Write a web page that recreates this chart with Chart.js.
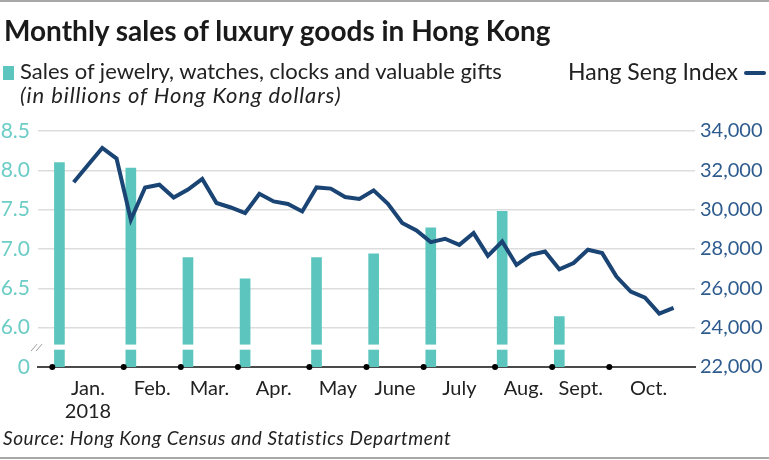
<!DOCTYPE html>
<html>
<head>
<meta charset="utf-8">
<script src="https://cdn.jsdelivr.net/npm/chart.js@4.4.1/dist/chart.umd.min.js"></script>
<style>
  html, body { margin: 0; padding: 0; background: #fff; }
  body { width: 769px; height: 460px; position: relative; overflow: hidden; font-family: Lato, sans-serif; color: #222; }
  #wrap { position: absolute; left: 0; top: 0; width: 769px; height: 460px; }
  .rule { position: absolute; left: 0; width: 769px; height: 2px; background: #a8a8a8; }
  #title { position: absolute; left: 4px; top: 13px; font-size: 28px; font-weight: bold; color: #1a1a1a; white-space: nowrap; }
  #legend-sales { position: absolute; left: 3px; top: 59px; font-size: 22px; line-height: 24px; color: #222; white-space: nowrap; }
  #legend-sales .swatch { display: inline-block; width: 11px; height: 14px; background: #5cc6be; margin-right: 6px; vertical-align: -1px; }
  #legend-sales .unit { font-style: italic; padding-left: 17px; letter-spacing: 0.9px; }
  #legend-hsi { position: absolute; right: 3px; top: 59px; font-size: 23px; line-height: 24px; color: #222; white-space: nowrap; }
  #legend-hsi .swatch { display: inline-block; width: 22px; height: 4px; background: #1a4473; margin-left: 6px; vertical-align: 5px; border-radius: 2px; }
  #source { position: absolute; left: 3px; top: 426px; font-size: 19px; font-style: italic; color: #222; white-space: nowrap; letter-spacing: 0.55px; }
</style>
</head>
<body>
<div id="wrap"><canvas id="chart" width="769" height="460"></canvas></div>
<div class="rule" style="top:0"></div>
<div class="rule" style="top:457px"></div>
<div id="title">Monthly sales of luxury goods in Hong Kong</div>
<div id="legend-sales"><span class="swatch"></span>Sales of jewelry, watches, clocks and valuable gifts<br><span class="unit">(in billions of Hong Kong dollars)</span></div>
<div id="legend-hsi">Hang Seng Index<span class="swatch"></span></div>
<div id="source">Source: Hong Kong Census and Statistics Department</div>
<script>
// months of 2018, x axis counted in weeks from Jan. 1
const months = ['Jan.', 'Feb.', 'Mar.', 'Apr.', 'May', 'June', 'July', 'Aug.', 'Sept.', 'Oct.'];
const monthStartWeeks = [0, 5, 9, 13, 18, 22, 26, 31, 35, 39];
const axisEndWeek = 44.5;

// monthly sales, HK$ billion (Jan. - Sept.)
const salesValues = [8.1, 8.03, 6.89, 6.62, 6.89, 6.94, 7.27, 7.48, 6.14];

// weekly Hang Seng Index closes
const hsiFirstWeek = 1.5;
const hangSeng = [
  31390, 32270, 33140, 32600, 29490, 31130, 31270, 30620, 31020, 31560,
  30340, 30110, 29830, 30810, 30420, 30290, 29910, 31130, 31070, 30640,
  30540, 30980, 30300, 29320, 28940, 28350, 28520, 28210, 28810, 27650,
  28380, 27190, 27700, 27870, 26970, 27290, 27960, 27790, 26600, 25830,
  25520, 24720, 25010
];

const salesTicks = [5.5, 6.0, 6.5, 7.0, 7.5, 8.0, 8.5];
const hsiTicks = [22000, 24000, 26000, 28000, 30000, 32000, 34000];

const TEAL = '#5cc6be';
const NAVY = '#1a4473';

const monthCenters = monthStartWeeks.map((w, i) => {
  const end = i < monthStartWeeks.length - 1 ? monthStartWeeks[i + 1] : axisEndWeek;
  return (w + end) / 2;
});

// white gap through the bars plus the "//" mark on the left axis
const axisBreak = {
  id: 'axisBreak',
  afterDatasetsDraw(chart) {
    const { ctx, chartArea } = chart;
    const y = chart.scales.y;
    const top = y.getPixelForValue(5.785);
    const bottom = y.getPixelForValue(5.72);
    ctx.save();
    ctx.fillStyle = '#fff';
    chart.getDatasetMeta(0).data.forEach(bar => {
      ctx.fillRect(bar.x - bar.width / 2 - 1, top, bar.width + 2, bottom - top);
    });
    const mid = (top + bottom) / 2;
    ctx.strokeStyle = '#9a9a9a';
    ctx.lineWidth = 1;
    [-3, 2].forEach(dx => {
      ctx.beginPath();
      ctx.moveTo(chartArea.left + dx - 4, mid + 4);
      ctx.lineTo(chartArea.left + dx + 2, mid - 3);
      ctx.stroke();
    });
    ctx.restore();
  }
};

new Chart(document.getElementById('chart'), {
  data: {
    datasets: [
      {
        type: 'bar',
        label: 'Sales',
        data: salesValues.map((v, i) => ({ x: monthStartWeeks[i] + 0.5, y: v })),
        backgroundColor: TEAL,
        barThickness: 10,
        yAxisID: 'y',
        order: 3
      },
      {
        type: 'line',
        label: 'Hang Seng Index',
        data: hangSeng.map((v, i) => ({ x: hsiFirstWeek + i, y: v })),
        borderColor: NAVY,
        borderWidth: 4,
        pointRadius: 0,
        tension: 0,
        yAxisID: 'y1',
        order: 2
      },
      {
        type: 'scatter',
        label: 'month starts',
        data: monthStartWeeks.map(w => ({ x: w, y: 5.5 })),
        backgroundColor: '#000',
        borderWidth: 0,
        pointRadius: 3,
        yAxisID: 'y',
        clip: false,
        order: 1
      }
    ]
  },
  options: {
    responsive: false,
    animation: false,
    layout: { padding: { top: 131, bottom: 23, left: 0, right: 0 } },
    plugins: {
      legend: { display: false },
      tooltip: { enabled: false }
    },
    scales: {
      x: {
        type: 'linear',
        min: -1,
        max: 45,
        offset: false,
        afterBuildTicks: scale => { scale.ticks = monthCenters.map(v => ({ value: v })); },
        afterFit: scale => { scale.height = 70; },
        ticks: {
          autoSkip: false,
          maxRotation: 0,
          padding: 2,
          color: '#222',
          font: { family: 'Lato', size: 20, lineHeight: 1.15 },
          callback: (value, index) => index === 0 ? [months[0], '2018'] : months[index]
        },
        grid: { display: false, offset: false },
        border: { display: true, color: '#4a4a4a', width: 2 }
      },
      y: {
        position: 'left',
        min: 5.5,
        max: 8.5,
        afterBuildTicks: scale => { scale.ticks = salesTicks.map(v => ({ value: v })); },
        afterFit: scale => { scale.width = 38; },
        ticks: {
          padding: 8,
          color: '#6ccdc6',
          font: { family: 'Lato', size: 21 },
          callback: v => v === 5.5 ? '0' : v.toFixed(1)
        },
        grid: {
          drawTicks: false,
          lineWidth: 1.5,
          color: ctx => ctx.tick && ctx.tick.value === 5.5 ? 'rgba(0,0,0,0)' : '#dddddd'
        },
        border: { display: false }
      },
      y1: {
        position: 'right',
        min: 22000,
        max: 34000,
        afterBuildTicks: scale => { scale.ticks = hsiTicks.map(v => ({ value: v })); },
        afterFit: scale => { scale.width = 74; },
        ticks: {
          padding: 5,
          color: '#2e5b8e',
          font: { family: 'Lato', size: 20 },
          callback: v => v.toLocaleString('en-US')
        },
        grid: { display: false, drawTicks: false },
        border: { display: false }
      }
    }
  },
  plugins: [axisBreak]
});
</script>
</body>
</html>
